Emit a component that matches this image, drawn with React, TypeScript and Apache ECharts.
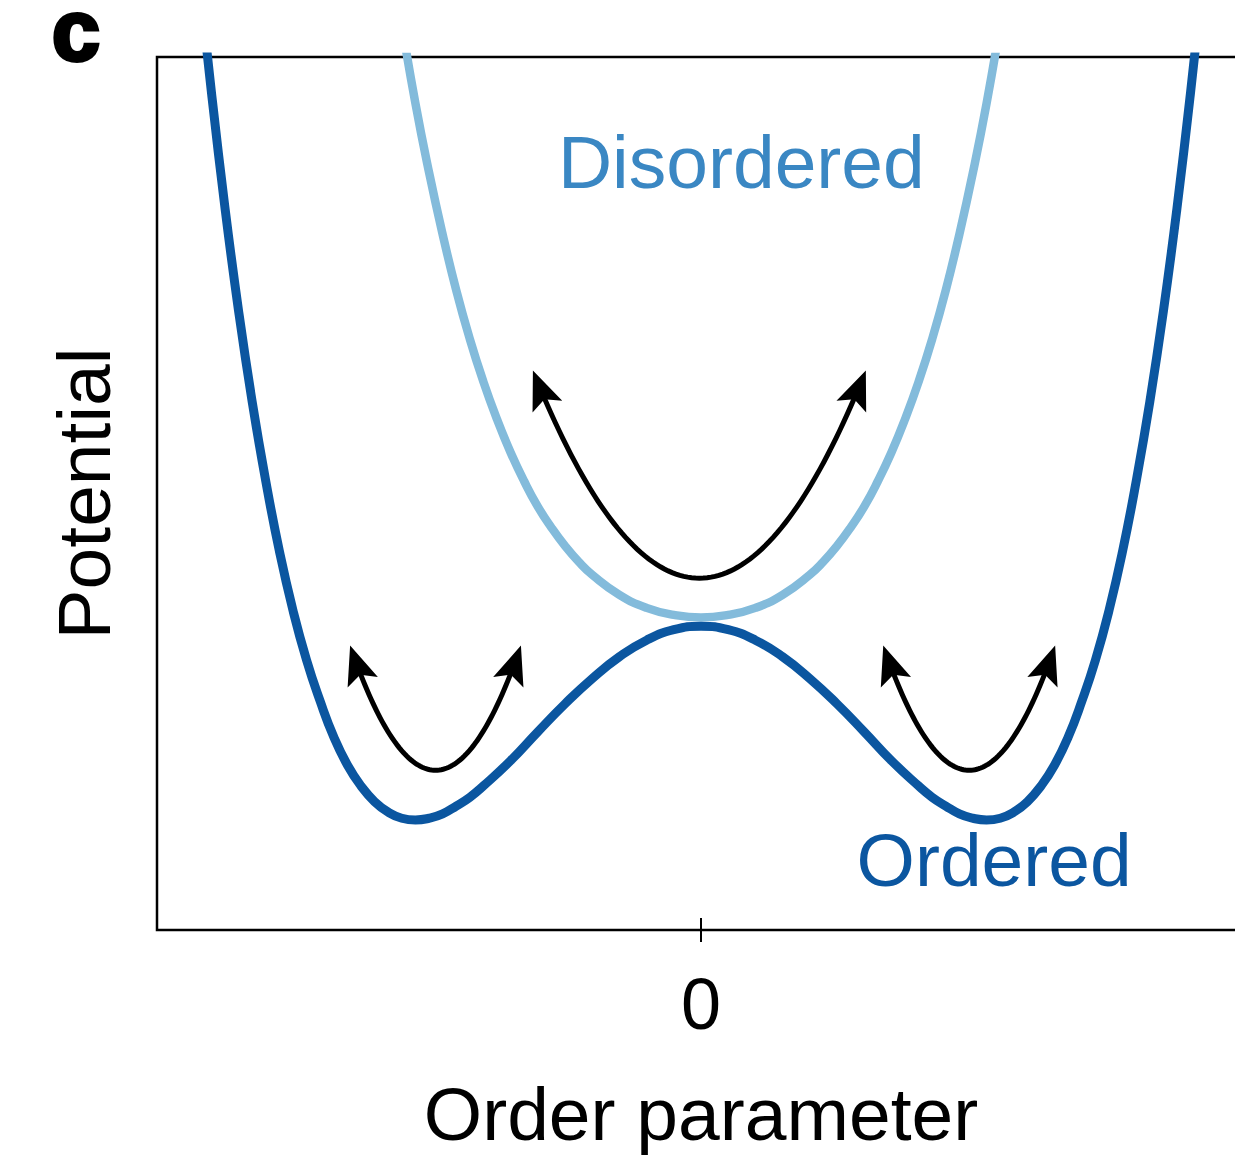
import React, { useEffect, useRef } from "react";
import * as echarts from "echarts";

// Order parameter (x) and potential (y)
const orderedX = [-0.95, -0.925, -0.9, -0.875, -0.85, -0.825, -0.8, -0.775, -0.75, -0.725, -0.7, -0.675, -0.65, -0.625, -0.6, -0.575, -0.55, -0.525, -0.5, -0.475, -0.45, -0.425, -0.4, -0.35, -0.3, -0.25, -0.2, -0.15, -0.1, -0.05, 0, 0.05, 0.1, 0.15, 0.2, 0.25, 0.3, 0.35, 0.4, 0.425, 0.45, 0.475, 0.5, 0.525, 0.55, 0.575, 0.6, 0.625, 0.65, 0.675, 0.7, 0.725, 0.75, 0.775, 0.8, 0.825, 0.85, 0.875, 0.9, 0.925, 0.95];
const orderedY = [12.74, 11.08, 9.6, 8.27, 7.09, 6.05, 5.14, 4.34, 3.66, 3.09, 2.62, 2.21, 1.89, 1.65, 1.47, 1.35, 1.28, 1.26, 1.28, 1.33, 1.42, 1.52, 1.65, 1.94, 2.27, 2.59, 2.88, 3.13, 3.32, 3.44, 3.48, 3.44, 3.32, 3.13, 2.88, 2.59, 2.27, 1.94, 1.65, 1.52, 1.42, 1.33, 1.28, 1.26, 1.28, 1.35, 1.47, 1.65, 1.89, 2.21, 2.62, 3.09, 3.66, 4.34, 5.14, 6.05, 7.09, 8.27, 9.6, 11.08, 12.74];

const disorderedX = [-0.55, -0.525, -0.5, -0.475, -0.45, -0.425, -0.4, -0.375, -0.35, -0.325, -0.3, -0.275, -0.25, -0.225, -0.2, -0.15, -0.1, -0.05, 0, 0.05, 0.1, 0.15, 0.2, 0.225, 0.25, 0.275, 0.3, 0.325, 0.35, 0.375, 0.4, 0.425, 0.45, 0.475, 0.5, 0.525, 0.55];
const disorderedY = [10.37, 9.47, 8.68, 7.97, 7.33, 6.77, 6.28, 5.85, 5.47, 5.14, 4.85, 4.61, 4.4, 4.22, 4.07, 3.84, 3.69, 3.61, 3.58, 3.61, 3.69, 3.84, 4.07, 4.22, 4.4, 4.61, 4.85, 5.14, 5.47, 5.85, 6.28, 6.77, 7.33, 7.97, 8.68, 9.47, 10.37];

const xTickValues = [0];
const xTickLabels = ["0"];

// Curved double-headed arrows (data coordinates)
const arrowStartX = [-0.645, -0.309, 0.335];
const arrowEndX = [-0.331, 0.303, 0.651];
const arrowTipY = [3.26, 6.41, 3.26];
const arrowBottomY = [1.83, 4.03, 1.83];

// Curve labels (data coordinates of their left baseline)
const labelTexts = ["Disordered", "Ordered"];
const labelX = [-0.263, 0.286];
const labelY = [8.5, 0.504];

const DARK = "#0b56a0";
const LIGHT = "#83bbdb";
const LABEL_COLORS = ["#3a87c3", DARK];
const FONT = '"Liberation Sans", Arial, Helvetica, sans-serif';

export default function App() {
  const ref = useRef<HTMLDivElement>(null);
  useEffect(() => {
    const chart = echarts.init(ref.current!, null, { renderer: "svg" });
    const axisCommon = {
      type: "value" as const,
      min: -1,
      max: 1,
      interval: 1,
      position: "bottom" as const,
      splitLine: { show: false },
      axisLine: { show: false },
    };
    chart.setOption({
      animation: false,
      backgroundColor: "#fff",
      grid: {
        left: 157,
        top: 57,
        width: 1088,
        height: 873,
        show: true,
        borderColor: "#000",
        borderWidth: 2.5,
        backgroundColor: "transparent",
        outerBoundsMode: "none",
        containLabel: false,
      },
      xAxis: [
        {
          ...axisCommon,
          name: "Order parameter",
          nameLocation: "middle",
          nameGap: 146,
          nameTextStyle: { fontSize: 75, fontFamily: FONT, color: "#000", lineHeight: 75 },
          axisTick: { show: true, inside: false, length: 12, customValues: xTickValues, lineStyle: { color: "#000", width: 2 } },
          axisLabel: {
            show: true,
            customValues: xTickValues,
            formatter: (v: number) => xTickLabels[xTickValues.indexOf(v)] ?? "",
            fontSize: 72,
            lineHeight: 72,
            fontFamily: FONT,
            color: "#000",
            margin: 38,
          },
        },
        {
          ...axisCommon,
          axisTick: { show: true, inside: true, length: 12, customValues: xTickValues, lineStyle: { color: "#000", width: 2 } },
          axisLabel: { show: false },
        },
      ],
      yAxis: {
        type: "value",
        min: 0,
        max: 10,
        name: "Potential",
        nameLocation: "middle",
        nameRotate: 90,
        nameGap: 36,
        nameTextStyle: { fontSize: 75, fontFamily: FONT, color: "#000", lineHeight: 75 },
        splitLine: { show: false },
        axisLine: { show: false },
        axisTick: { show: false },
        axisLabel: { show: false },
      },
      series: [
        {
          type: "line",
          name: "Disordered",
          data: disorderedX.map((x, i) => [x, disorderedY[i]]),
          smooth: true,
          showSymbol: false,
          clip: true,
          lineStyle: { color: LIGHT, width: 8.5 },
          z: 2,
        },
        {
          type: "line",
          name: "Ordered",
          data: orderedX.map((x, i) => [x, orderedY[i]]),
          smooth: true,
          showSymbol: false,
          clip: true,
          lineStyle: { color: DARK, width: 9 },
          z: 3,
        },
      ],
    });

    const px = (x: number, y: number) => chart.convertToPixel({ gridIndex: 0 }, [x, y]) as number[];
    const graphics: any[] = [];

    // panel letter
    graphics.push({
      type: "text",
      x: 52,
      y: 30,
      style: {
        text: "c",
        fontSize: 86,
        lineHeight: 60,
        fontWeight: 900,
        fontFamily: FONT,
        fill: "#000",
        stroke: "#000",
        lineWidth: 4,
        verticalAlign: "middle",
        align: "left",
      },
    });

    // curve labels
    labelTexts.forEach((t, i) => {
      const p = px(labelX[i], labelY[i]);
      graphics.push({
        type: "text",
        x: p[0],
        y: p[1] - 26,
        style: { text: t, fontSize: 75, fontFamily: FONT, fill: LABEL_COLORS[i], verticalAlign: "middle", align: "left" },
        z: 10,
      });
    });

    // arrows
    arrowStartX.forEach((sx, i) => {
      const p0 = px(sx, arrowTipY[i]);
      const p2 = px(arrowEndX[i], arrowTipY[i]);
      const b = px((sx + arrowEndX[i]) / 2, arrowBottomY[i]);
      const c = [2 * b[0] - (p0[0] + p2[0]) / 2, 2 * b[1] - (p0[1] + p2[1]) / 2];
      const bez = (t: number) => {
        const u = 1 - t;
        return [u * u * p0[0] + 2 * u * t * c[0] + t * t * p2[0], u * u * p0[1] + 2 * u * t * c[1] + t * t * p2[1]];
      };
      const cut = 27;
      let ta = 0;
      while (ta < 0.5) {
        const q = bez(ta);
        if (Math.hypot(q[0] - p0[0], q[1] - p0[1]) >= cut) break;
        ta += 0.002;
      }
      const pts: number[][] = [];
      const n = 80;
      for (let k = 0; k <= n; k++) pts.push(bez(ta + ((1 - 2 * ta) * k) / n));
      graphics.push({
        type: "polyline",
        shape: { points: pts },
        style: { stroke: "#000", lineWidth: 5, fill: null },
        z: 10,
      });
      [
        [p0, c],
        [p2, c],
      ].forEach(([tip, cp]) => {
        const dx = tip[0] - cp[0];
        const dy = tip[1] - cp[1];
        const len = Math.hypot(dx, dy);
        const ux = dx / len;
        const uy = dy / len;
        const nx = -uy;
        const ny = ux;
        const L = 39;
        const W = 16;
        const N = 31;
        const back = [tip[0] - ux * L, tip[1] - uy * L];
        graphics.push({
          type: "polygon",
          shape: {
            points: [
              tip,
              [back[0] + nx * W, back[1] + ny * W],
              [tip[0] - ux * N, tip[1] - uy * N],
              [back[0] - nx * W, back[1] - ny * W],
            ],
          },
          style: { fill: "#000", stroke: null },
          z: 11,
        });
      });
    });

    chart.setOption({ graphic: graphics });
    return () => chart.dispose();
  }, []);

  return (
    <div
      ref={ref}
      style={{ position: "fixed", left: 0, top: 0, width: 1235, height: 1158, background: "#fff" }}
    />
  );
}
